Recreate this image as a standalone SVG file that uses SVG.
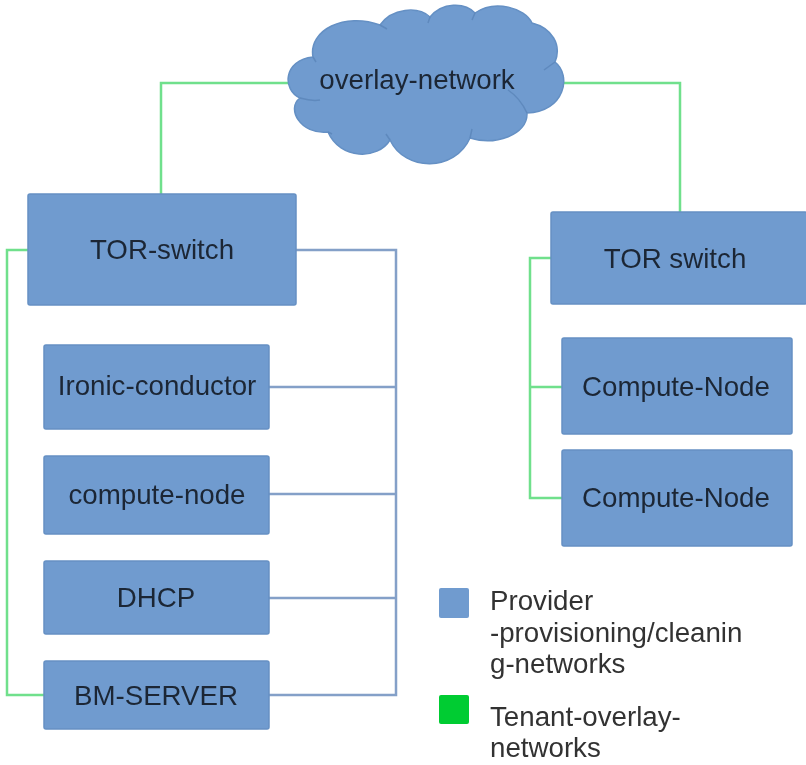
<svg xmlns="http://www.w3.org/2000/svg" width="806" height="765" viewBox="0 0 806 765">
<defs>
<filter id="soft" x="-5%" y="-5%" width="110%" height="110%"><feGaussianBlur stdDeviation="0.6"/></filter>
</defs>
<style>
.box{fill:#6f9bcf;stroke:#6590c4;stroke-width:1.5}
.lbl{font-family:"Liberation Sans",Arial,sans-serif;font-size:27.7px;fill:#1d2735;text-anchor:middle}
.leg{font-family:"Liberation Sans",Arial,sans-serif;font-size:27.7px;fill:#333}
.g{fill:none;stroke:#6fe08c;stroke-width:2.5}
.b{fill:none;stroke:#84a0c8;stroke-width:2.5}
.crease{fill:none;stroke:#5f89bd;stroke-width:1.5}
</style>
<rect width="806" height="765" fill="#fff"/>
<g filter="url(#soft)">
<g id="connectors">
<path class="g" d="M161 194V83H292"/>
<path class="g" d="M562 83H680V212"/>
<path class="g" d="M28 250H7V695H44"/>
<path class="g" d="M551 258H530V498H562M530 387H562"/>
<path class="b" d="M296 250H396V695H269M269 387H396M269 494H396M269 598H396"/>
</g>
<g id="cloud">
<path d="M313 57C308 30 345 12 380 25C392 8 418 6 430 17C442 2 465 2 475 13C495 -1 525 8 532 23C552 28 562 45 555 62C572 75 565 112 527 113C528 135 495 146 470 138C455 172 405 172 390 140C378 160 340 160 328 132C300 135 286 108 300 98C282 90 283 60 313 57Z" fill="#6f9bcf" stroke="#6590c4" stroke-width="1.5"/>
<path class="crease" d="M300 98C307 100 315 101 320 100M313 57L316 62M380 25L387 29M430 17L428 23M475 13L472 20M555 62L544 70M527 113C522 102 514 94 508 90M470 138L472 129M390 140L386 134M328 132L332 134"/>
<text class="lbl" x="417" y="89">overlay-network</text>
</g>
<g id="tor-switch-left"><rect class="box" x="28" y="194" width="268" height="111" rx="2"/><text class="lbl" x="162" y="259">TOR-switch</text></g>
<g id="ironic-conductor"><rect class="box" x="44" y="345" width="225" height="84" rx="2"/><text class="lbl" x="157" y="395">Ironic-conductor</text></g>
<g id="compute-node"><rect class="box" x="44" y="456" width="225" height="78" rx="2"/><text class="lbl" x="157" y="504">compute-node</text></g>
<g id="dhcp"><rect class="box" x="44" y="561" width="225" height="73" rx="2"/><text class="lbl" x="156" y="607">DHCP</text></g>
<g id="bm-server"><rect class="box" x="44" y="661" width="225" height="68" rx="2"/><text class="lbl" x="156" y="705">BM-SERVER</text></g>
<g id="tor-switch-right"><rect class="box" x="551" y="212" width="256" height="92" rx="2"/><text class="lbl" x="675" y="268">TOR switch</text></g>
<g id="compute-node-1"><rect class="box" x="562" y="338" width="230" height="96" rx="2"/><text class="lbl" x="676" y="396">Compute-Node</text></g>
<g id="compute-node-2"><rect class="box" x="562" y="450" width="230" height="96" rx="2"/><text class="lbl" x="676" y="507">Compute-Node</text></g>
<g id="legend-provider"><rect x="439" y="588" width="30" height="30" rx="2" fill="#6f9bcf"/><text class="leg" x="490" y="610">Provider</text><text class="leg" x="490" y="642">-provisioning/cleanin</text><text class="leg" x="490" y="673">g-networks</text></g>
<g id="legend-tenant"><rect x="439" y="695" width="30" height="29" rx="2" fill="#00cc33"/><text class="leg" x="490" y="726">Tenant-overlay-</text><text class="leg" x="490" y="757">networks</text></g>
</g>
</svg>
